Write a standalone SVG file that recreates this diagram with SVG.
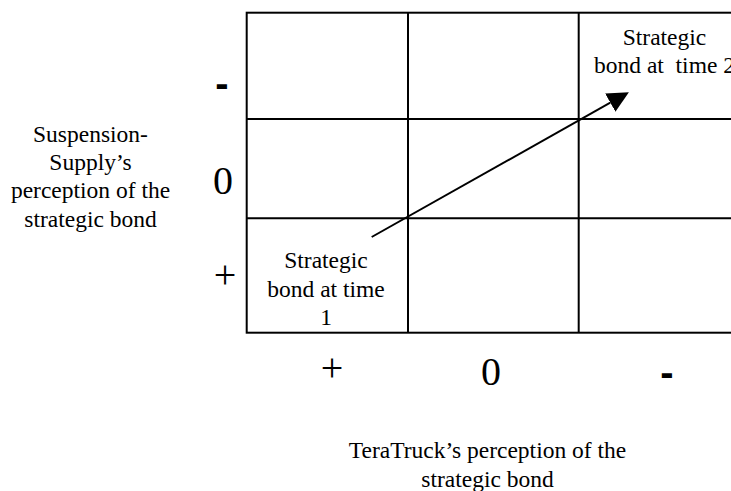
<svg xmlns="http://www.w3.org/2000/svg" width="731" height="491" viewBox="0 0 731 491">
<style>
.t{font-family:"Liberation Serif","Times New Roman",serif;font-size:23.5px;fill:#000;text-anchor:middle}
.big{font-family:"Liberation Serif","Times New Roman",serif;font-size:40px;fill:#000;text-anchor:middle}
.dash{font-family:"Liberation Sans",Arial,sans-serif;font-weight:bold;font-size:40px;fill:#000;text-anchor:middle}
.grid{stroke:#000;stroke-width:2;fill:none}
</style>
<defs>
<marker id="ah" markerUnits="userSpaceOnUse" markerWidth="22" markerHeight="22" viewBox="0 -10 20 20" refX="0" refY="0" orient="auto">
<path d="M0,-9.5 L19.4,0 L0,9.5 z" fill="#000"/>
</marker>
</defs>
<g id="grid">
<rect class="grid" x="246.7" y="12.7" width="510" height="320"/>
<line class="grid" x1="408" y1="12.7" x2="408" y2="332.7"/>
<line class="grid" x1="578.7" y1="12.7" x2="578.7" y2="332.7"/>
<line class="grid" x1="246.7" y1="119" x2="756.7" y2="119"/>
<line class="grid" x1="246.7" y1="218.3" x2="756.7" y2="218.3"/>
</g>
<g id="y-axis-label">
<text class="t" x="90.5" y="141.7">Suspension-</text>
<text class="t" x="90.5" y="170">Supply’s</text>
<text class="t" x="90.5" y="198.3">perception of the</text>
<text class="t" x="90.5" y="226.7">strategic bond</text>
</g>
<g id="y-ticks">
<text class="dash" x="222" y="97">-</text>
<text class="big" x="223" y="193.5">0</text>
<text class="big" x="225" y="288">+</text>
</g>
<g id="x-ticks">
<text class="big" x="332" y="381">+</text>
<text class="big" x="491" y="385">0</text>
<text class="dash" x="667" y="386">-</text>
</g>
<g id="x-axis-label">
<text class="t" x="487.5" y="458">TeraTruck’s perception of the</text>
<text class="t" x="487.5" y="486.5">strategic bond</text>
</g>
<g id="time1">
<text class="t" x="326" y="268.3">Strategic</text>
<text class="t" x="326" y="296.5">bond at time</text>
<text class="t" x="326" y="324.7">1</text>
</g>
<g id="time2">
<text class="t" x="664.5" y="45">Strategic</text>
<text class="t" x="664.5" y="73.3" xml:space="preserve">bond at  time 2</text>
</g>
<g id="connectors">
<line x1="371.7" y1="237" x2="610.3" y2="102.7" stroke="#000" stroke-width="2" marker-end="url(#ah)"/>
</g>
</svg>
